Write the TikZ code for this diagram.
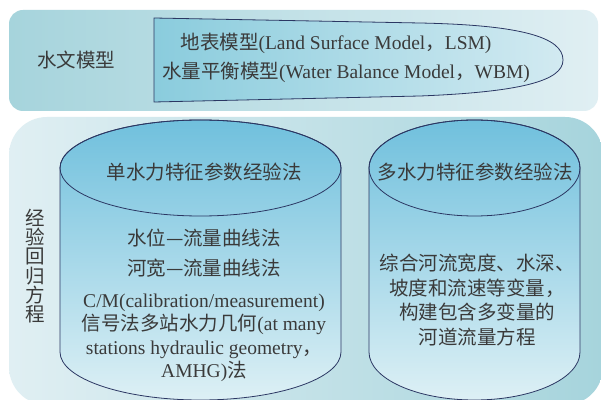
\documentclass[tikz,border=0pt]{standalone}
\usepackage{fontspec}
\setmainfont{Liberation Serif}
\newfontfamily\zhfont{Noto Sans CJK SC}
\usepackage{tikz}
\definecolor{rimblue}{HTML}{2B3763}
\definecolor{ink}{HTML}{3A3A3A}
\definecolor{tealdark}{HTML}{A6D4DC}
\definecolor{teallight}{HTML}{E0EFF3}
\definecolor{boxdark}{HTML}{8ACCDD}
\definecolor{boxlight}{HTML}{D2EAF1}
\definecolor{cyltop}{HTML}{70C0DD}
\definecolor{cylmid}{HTML}{B2DDE9}
\definecolor{cylbot}{HTML}{DDF0F5}

\begin{document}
\begin{tikzpicture}[x=1pt,y=1pt,
  txt/.style={text=ink,font=\fontsize{19.5}{24}\selectfont,inner sep=0pt},
  rim/.style={draw=rimblue,line width=0.8pt}]
  \useasboundingbox (0,0) rectangle (601,399);
  \clip (0,0) rectangle (601,399);
  \fill[white] (0,0) rectangle (601,399);

  \shade[left color=tealdark,right color=teallight,rounded corners=14pt] (9,288) rectangle (598,389);
  \shade[left color=teallight,right color=tealdark,rounded corners=38pt] (9,-6) rectangle (603,282);

  \shadedraw[rim,left color=boxdark,right color=boxlight] (154,381) -- (420,376)
    .. controls (520,374) and (563,362) .. (563,339)
    .. controls (563,318) and (520,307) .. (420,303) -- (154,297) -- cycle;

  \shadedraw[rim,top color=cyltop,middle color=cylmid,bottom color=cylbot] (60,231) -- (60,47)
    arc[start angle=180,end angle=360,x radius=140.5,y radius=48] -- (341,231)
    arc[start angle=0,end angle=180,x radius=140.5,y radius=48] -- cycle;
  \draw[rim] (200.5,231) ellipse [x radius=140.5,y radius=48];

  \shadedraw[rim,top color=cyltop,middle color=cylmid,bottom color=cylbot] (369,231) -- (369,47)
    arc[start angle=180,end angle=360,x radius=105.5,y radius=48] -- (580,231)
    arc[start angle=0,end angle=180,x radius=105.5,y radius=48] -- cycle;
  \draw[rim] (474.5,231) ellipse [x radius=105.5,y radius=48];

  \node[txt] (hydro) at (76,339) {\zhfont 水文模型};
  \node[txt] (lsm) at (336,356) {{\zhfont 地表模型}(Land Surface Model{\zhfont ，}LSM)};
  \node[txt] (wbm) at (346,327) {{\zhfont 水量平衡模型}(Water Balance Model{\zhfont ，}WBM)};

  \node[txt,align=center,font=\fontsize{19.5}{19.2}\selectfont\zhfont] (regress) at (35,133) {经\\验\\回\\归\\方\\程};

  \node[txt] (single) at (204,227) {\zhfont 单水力特征参数经验法};
  \node[txt] (stage) at (204,161) {\zhfont 水位—流量曲线法};
  \node[txt] (width) at (204,131) {\zhfont 河宽—流量曲线法};
  \node[txt,align=center,font=\fontsize{19.5}{23.4}\selectfont] (amhg) at (204,61)
    {C/M(calibration/measurement)\\{\zhfont 信号法多站水力几何}(at many\\stations hydraulic geometry{\zhfont ，}\\AMHG){\zhfont 法}};

  \node[txt] (multi) at (475,227) {\zhfont 多水力特征参数经验法};
  \node[txt,align=center,font=\fontsize{19.5}{24.4}\selectfont\zhfont] (combine) at (477,99)
    {综合河流宽度、水深、\\坡度和流速等变量，\\构建包含多变量的\\河道流量方程};
\end{tikzpicture}
\end{document}
